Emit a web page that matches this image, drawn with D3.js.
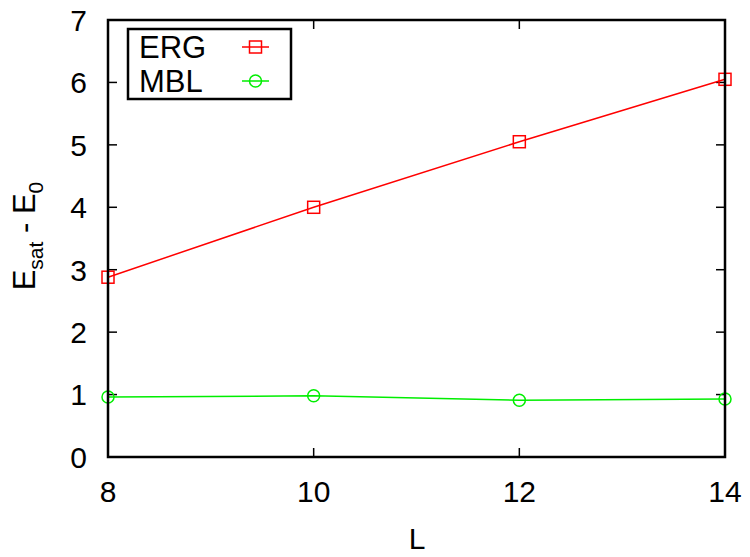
<!DOCTYPE html>
<html>
<head>
<meta charset="utf-8">
<script src="https://cdn.jsdelivr.net/npm/d3@7"></script>
<style>
  html, body { margin: 0; padding: 0; background: #fff; }
  svg { display: block; font-family: "Liberation Sans", Arial, Helvetica, sans-serif; }
</style>
</head>
<body>
<svg id="chart" width="750" height="557"></svg>
<script>
// System sizes and saturation energies above the ground state
const sizes = [8, 10, 12, 14];
const ergValues = [2.88, 4.0, 5.05, 6.05];
const mblValues = [0.96, 0.98, 0.91, 0.93];
const seriesNames = ["ERG", "MBL"];
const seriesColors = ["#ff0000", "#00ee00"];
const xTicks = [8, 10, 12, 14];
const yTicks = [0, 1, 2, 3, 4, 5, 6, 7];

const svg = d3.select("#chart");
const margin = { left: 108, right: 25, top: 20, bottom: 100 };
const W = 750, H = 557;

const x = d3.scaleLinear().domain([8, 14]).range([margin.left, W - margin.right]);
const y = d3.scaleLinear().domain([0, 7]).range([H - margin.bottom, margin.top]);

const tickLen = 9;
const fontSize = 30;

// Tick marks on all four sides, pointing inward
const gTicks = svg.append("g").attr("stroke", "#000").attr("stroke-width", 1.5);
yTicks.forEach(v => {
  gTicks.append("line").attr("x1", x.range()[0]).attr("x2", x.range()[0] + tickLen)
    .attr("y1", y(v)).attr("y2", y(v));
  gTicks.append("line").attr("x1", x.range()[1]).attr("x2", x.range()[1] - tickLen)
    .attr("y1", y(v)).attr("y2", y(v));
});
xTicks.forEach(v => {
  gTicks.append("line").attr("x1", x(v)).attr("x2", x(v))
    .attr("y1", y.range()[0]).attr("y2", y.range()[0] - tickLen);
  gTicks.append("line").attr("x1", x(v)).attr("x2", x(v))
    .attr("y1", y.range()[1]).attr("y2", y.range()[1] + tickLen);
});

// Tick labels
svg.append("g").selectAll("text").data(yTicks).join("text")
  .attr("x", x.range()[0] - 21).attr("y", d => y(d))
  .attr("dy", "0.36em").attr("text-anchor", "end")
  .attr("font-size", fontSize).text(d => d);

svg.append("g").selectAll("text").data(xTicks).join("text")
  .attr("x", d => x(d)).attr("y", y.range()[0] + 45)
  .attr("text-anchor", "middle")
  .attr("font-size", fontSize).text(d => d);

// Data series
const series = [ergValues, mblValues];
const line = d3.line().x((d, i) => x(sizes[i])).y(d => y(d));

series.forEach((vals, s) => {
  const color = seriesColors[s];
  svg.append("path").datum(vals).attr("d", line)
    .attr("fill", "none").attr("stroke", color).attr("stroke-width", 1.5);
  const g = svg.append("g").attr("stroke", color).attr("stroke-width", 1.5).attr("fill", "none");
  vals.forEach((v, i) => {
    if (s === 0) {
      g.append("rect").attr("x", x(sizes[i]) - 6).attr("y", y(v) - 6)
        .attr("width", 12).attr("height", 12);
    } else {
      g.append("circle").attr("cx", x(sizes[i])).attr("cy", y(v)).attr("r", 6);
    }
  });
});

// Plot frame
svg.append("rect")
  .attr("x", x.range()[0]).attr("y", y.range()[1])
  .attr("width", x.range()[1] - x.range()[0])
  .attr("height", y.range()[0] - y.range()[1])
  .attr("fill", "none").attr("stroke", "#000").attr("stroke-width", 2.5);

// Legend
const leg = svg.append("g");
leg.append("rect").attr("x", 128).attr("y", 29).attr("width", 163).attr("height", 70)
  .attr("fill", "#fff").attr("stroke", "#000").attr("stroke-width", 2.5);
seriesNames.forEach((name, s) => {
  const cy = 47 + s * 34;
  leg.append("text").attr("x", 139).attr("y", cy).attr("dy", "0.36em")
    .attr("font-size", 31).text(name);
  leg.append("line").attr("x1", 242).attr("x2", 269).attr("y1", cy).attr("y2", cy)
    .attr("stroke", seriesColors[s]).attr("stroke-width", 1.5);
  if (s === 0) {
    leg.append("rect").attr("x", 255.5 - 6).attr("y", cy - 6).attr("width", 12).attr("height", 12)
      .attr("fill", "none").attr("stroke", seriesColors[s]).attr("stroke-width", 1.5);
  } else {
    leg.append("circle").attr("cx", 255.5).attr("cy", cy).attr("r", 6)
      .attr("fill", "none").attr("stroke", seriesColors[s]).attr("stroke-width", 1.5);
  }
});

// Axis titles
svg.append("text").attr("x", 417).attr("y", 549)
  .attr("text-anchor", "middle").attr("font-size", 30).text("L");

const yl = svg.append("text")
  .attr("transform", "translate(35, 236) rotate(-90)")
  .attr("text-anchor", "middle").attr("font-size", 31);
yl.append("tspan").text("E");
yl.append("tspan").attr("font-size", 21).attr("dy", 8).text("sat");
yl.append("tspan").attr("dy", -8).text(" - E");
yl.append("tspan").attr("font-size", 21).attr("dy", 8).text("0");
</script>
</body>
</html>
